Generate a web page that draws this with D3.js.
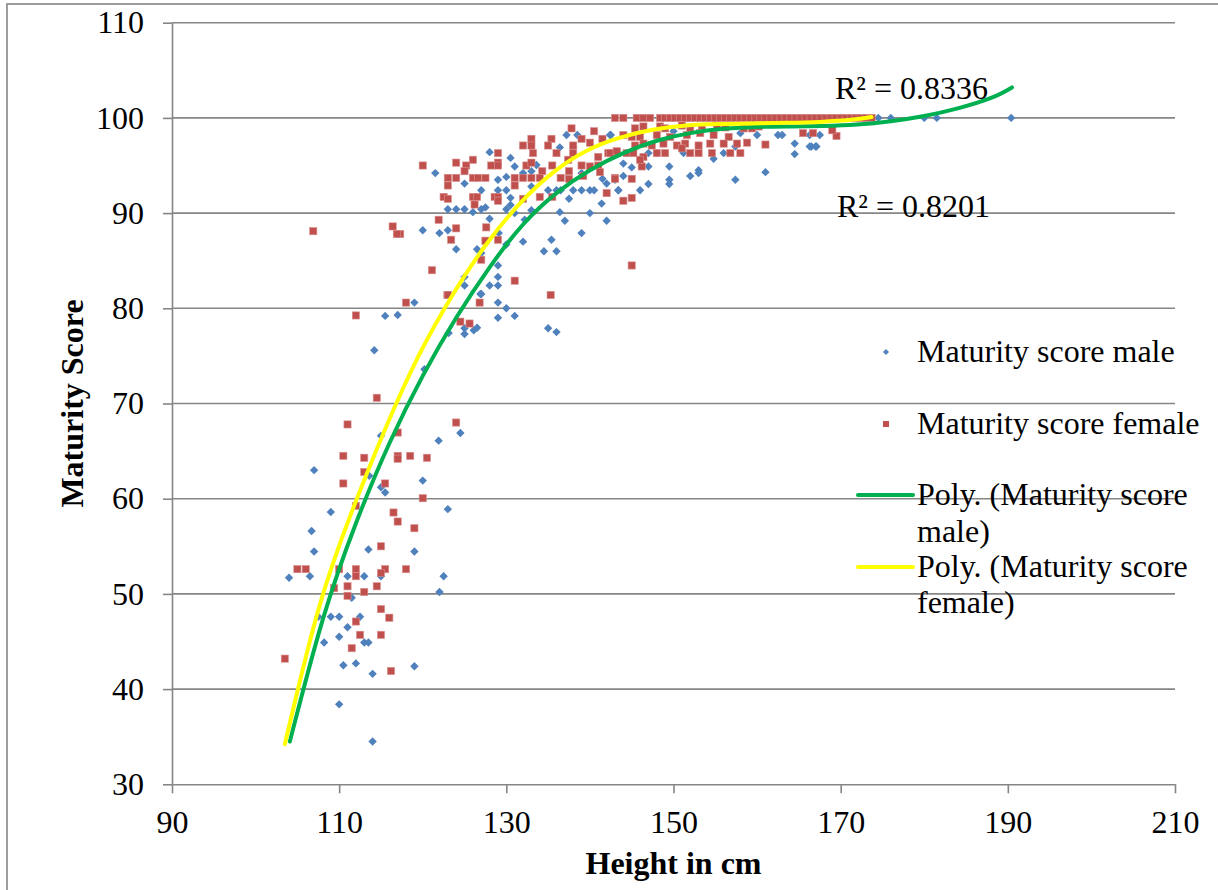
<!DOCTYPE html>
<html>
<head>
<meta charset="utf-8">
<script src="https://cdn.jsdelivr.net/npm/d3@7"></script>
<style>
  html, body { margin: 0; padding: 0; background: #fff; }
  svg { display: block; }
  text { font-family: "Liberation Serif", "Times New Roman", serif; fill: #000; }
</style>
</head>
<body>
<svg id="chart" width="1218" height="890"></svg>
<script>
// Height (cm) vs maturity score, boys and girls
const maleData = [
  [119.0,80.6],[126.9,81.5],[115.5,79.2],[117.0,79.3],[125.0,77.9],[126.1,77.7],[126.5,77.95],[125.0,77.3],[123.1,77.4],
  [114.2,75.6],[120.2,73.6],[124.5,66.9],[115.0,66.6],[121.9,66.1],[107.0,63.0],[113.6,62.4],[115.0,61.2],[115.5,60.65],
  [120.0,61.9],[109.0,58.6],[123.0,58.9],[106.7,56.6],
  [107.0,54.45],[113.5,54.66],[119.0,54.45],[104.0,51.7],[106.5,51.86],[111.0,51.86],[113.0,51.86],[115.0,51.86],
  [122.5,51.86],[111.5,49.6],[122.0,50.2],[107.5,47.6],[109.0,47.6],[110.0,47.6],[112.5,47.6],[111.0,46.5],[110.0,45.5],
  [108.2,44.9],[113.0,44.9],[113.5,44.9],[110.5,42.5],[112.0,42.7],[119.0,42.4],[114.0,41.6],[110.0,38.4],[114.0,34.5],
  [137.2,98.2],[138.5,98.2],[142.5,98.2],[128.0,96.4],[136.4,96.9],[138.0,96.9],[121.5,94.2],[130.5,95.8],[131.0,94.9],
  [133.6,95.05],[132.0,94.2],[133.0,94.4],[125.0,93.1],[129.0,93.5],[130.0,93.8],[139.0,94.2],[141.5,93.6],[142.0,93.1],
  [143.0,93.5],[127.0,92.4],[129.0,92.4],[130.0,92.4],[133.0,92.8],[135.0,92.4],[136.0,92.4],[136.5,92.4],[138.0,92.4],
  [139.0,92.4],[140.0,92.4],[140.5,92.4],[143.4,92.4],[130.5,91.6],[137.5,91.5],[123.0,90.4],[124.0,90.4],[125.0,90.4],
  [126.0,90.1],[127.0,90.4],[127.5,90.6],[130.0,90.4],[130.5,90.85],[133.0,90.3],[141.4,91.0],[131.0,90.0],[136.4,90.1],
  [140.0,90.0],[128.0,89.4],[132.2,89.3],[137.0,89.2],[142.0,89.2],[120.0,88.2],[122.0,87.9],[123.0,88.2],[129.1,87.9],
  [139.0,87.9],[132.0,87.0],[130.0,86.7],[135.4,87.2],[134.5,86.0],[136.0,86.0],[124.0,86.2],[126.5,86.2],[127.0,85.8],
  [129.0,84.5],[125.0,83.3],[129.0,83.3],[128.0,82.4],[129.0,82.4],[125.0,82.4],[127.0,81.5],[129.0,80.6],[130.0,80.0],
  [129.0,79.0],[131.0,79.2],[135.0,77.9],[136.0,77.5],
  [142.4,98.2],[160.0,98.2],[162.5,98.2],[163.0,98.2],[164.5,97.3],[164.5,96.2],[166.5,97.0],[167.1,97.0],[147.0,96.3],
  [148.0,96.3],[151.2,96.3],[154.8,95.7],[156.0,96.3],[157.4,97.0],[144.0,95.2],[145.0,94.8],[147.0,94.9],[149.5,94.9],
  [144.0,93.9],[152.0,93.9],[153.0,94.5],[153.0,94.2],[149.5,93.5],[149.5,93.05],[147.0,93.05],[146.0,92.4],[143.4,92.4],
  [157.4,93.5],[161.0,94.3],[150.0,98.6],[158.0,98.4],
  [166.3,98.2],[167.5,98.2],[166.3,97.0],[167.0,97.0],
  [155.0,100],[157.6,100],[163.3,100],[166.0,100],[170.0,100],[172.0,100],[174.5,100],[176.0,100],[180.0,100],
  [181.5,100],[190.4,100]
];

const femaleData = [
  [118.0,80.6],[122.95,81.4],[126.8,80.6],[112.0,79.25],[124.5,78.6],[125.6,78.4],[114.5,70.6],[111.0,67.8],[124.0,68.0],
  [117.0,66.95],[110.5,64.5],[113.0,64.3],[117.0,64.5],[117.0,64.2],[118.5,64.5],[120.5,64.3],[113.0,62.8],[110.5,61.6],
  [115.5,61.6],[120.0,60.05],[112.0,59.25],[116.5,58.55],[117.0,57.6],[119.0,56.9],
  [115.0,55.0],[105.0,52.6],[106.0,52.6],[110.0,52.6],[112.0,52.6],[112.0,51.86],[115.5,52.6],[115.0,52.2],[118.0,52.6],
  [111.0,50.8],[109.4,50.6],[114.5,50.8],[113.0,50.2],[111.0,49.8],[115.0,48.4],[116.0,47.5],[112.0,47.1],[112.5,45.7],
  [115.0,45.7],[111.5,44.3],[103.5,43.2],[116.2,41.9],
  [143.0,100.0],[137.8,98.9],[140.5,98.6],[133.0,97.8],[135.4,97.8],[139.0,97.8],[141.5,97.8],[132.0,97.1],[133.0,97.1],
  [135.0,97.1],[138.0,97.1],[140.0,97.4],[129.0,96.3],[133.2,96.3],[136.0,96.3],[138.0,96.3],[142.2,96.3],[126.0,95.6],
  [137.4,95.6],[141.0,95.9],[143.2,96.3],[120.0,95.0],[124.0,95.3],[125.2,95.0],[128.2,95.0],[129.0,95.3],[129.0,95.0],
  [132.4,95.0],[133.0,95.3],[135.5,95.0],[139.0,95.0],[140.0,94.9],[141.0,95.0],[125.0,94.4],[134.3,94.4],[137.5,94.4],
  [123.0,93.7],[124.0,93.7],[126.0,93.7],[126.6,93.7],[127.5,93.7],[131.0,93.7],[132.0,93.7],[133.0,93.7],[134.0,93.7],
  [136.5,93.7],[137.5,93.6],[139.2,93.9],[141.2,94.3],[143.0,93.7],[123.0,92.9],[131.0,92.9],[122.5,91.7],[123.0,91.5],
  [126.0,91.7],[126.5,91.7],[128.6,91.7],[129.0,91.7],[129.0,91.3],[132.0,91.5],[134.0,91.7],[135.5,91.7],[142.0,92.1],
  [126.2,90.9],[121.9,89.3],[117.3,87.8],[124.0,88.4],[123.4,87.2],[127.6,88.5],[127.5,87.1],[129.0,87.2],[127.0,85.1],
  [121.1,84.0],[131.0,82.9],[135.3,81.4],[123.0,81.4],
  [106.9,88.1],[116.4,88.6],[116.9,87.8],[145.0,84.5],
  [145.4,98.9],[146.4,99.1],[148.4,99.1],[149.0,98.9],[151.0,99.2],[152.0,98.9],[153.4,99.0],[155.2,99.2],[156.2,99.0],
  [158.4,98.9],[159.4,98.9],[160.2,99.1],
  [144.0,98.2],[145.0,98.0],[146.0,98.0],[148.0,98.2],[149.6,98.0],[151.6,98.2],[153.2,98.4],[154.8,98.2],[156.6,98.0],
  [165.5,98.4],[166.7,98.4],
  [145.4,97.1],[146.4,97.3],[147.4,97.1],[148.8,97.3],[150.4,97.1],[151.4,97.3],[153.0,97.1],[154.4,97.3],[156.0,97.3],
  [157.6,97.3],[158.8,97.4],[161.0,97.2],
  [142.4,96.3],[143.2,96.5],[144.4,96.3],[145.2,96.3],[146.4,95.9],[148.0,96.3],[149.0,96.3],[151.0,96.8],[152.0,96.3],
  [153.0,96.3],[154.6,96.3],[156.8,96.3],[158.0,96.3],
  [143.0,93.6],[145.0,93.6],[146.2,94.9],[146.0,95.6],[144.0,91.3],[145.0,91.6],
  [169.5,98.1],[169.0,98.7],
  [144.0,100],[145.6,100],[146.4,100],[147.2,100],[148.4,100],[149.0,100],[149.6,100],[150.2,100],[150.8,100],
  [151.4,100],[152.0,100],[152.6,100],[153.2,100],[153.8,100],[154.4,100],[155.0,100],[155.6,100],[156.2,100],
  [156.8,100],[157.4,100],[158.0,100],[158.6,100],[159.2,100],[159.8,100],[160.4,100],[161.0,100],[161.6,100],
  [162.2,100],[162.8,100],[163.4,100],[164.0,100],[164.6,100],[165.2,100],[165.8,100],[166.4,100],[167.0,100],
  [167.6,100],[168.2,100],[168.8,100],[169.4,100],[170.0,100],[170.6,100],[171.2,100],[171.8,100],[172.4,100],
  [173.0,100],[173.7,100]
];

// Polynomial trendlines (as plotted)
const maleTrend = [
  [104.1,34.5],[108,47.2],[112,57.4],[116,65.8],[120,72.9],[124,79.0],[128,84.3],[132,88.8],[136,92.1],[140,94.5],
  [144,96.3],[148,97.6],[152,98.4],[156,98.85],[160,99.05],[164,99.1],[168,99.15],[172,99.3],[176,99.65],[180,100.2],
  [184,101.0],[188,102.1],[190.5,103.2]
];
const femaleTrend = [
  [103.5,34.2],[107.5,48.3],[111.5,58.6],[115.5,67.3],[119.5,75.0],[123.5,81.3],[127.5,86.6],[131.5,90.9],[135.5,94.2],
  [139.5,96.5],[143.5,97.9],[147.5,98.75],[151.5,99.2],[155.5,99.35],[159.5,99.42],[163.5,99.48],[167.5,99.58],
  [171.5,99.82],[173.7,100.1]
];

const xTicks = [90, 110, 130, 150, 170, 190, 210];
const yTicks = [30, 40, 50, 60, 70, 80, 90, 100, 110];
const r2Labels = ["R\u00b2 = 0.8336", "R\u00b2 = 0.8201"];
const legendLabels = [
  ["Maturity score male"],
  ["Maturity score female"],
  ["Poly. (Maturity score", "male)"],
  ["Poly. (Maturity score", "female)"]
];

const BLUE = "#4F81BD", RED = "#C0504D", GREEN = "#00B050", YELLOW = "#FFFF00", GRID = "#868686";
const FS = 32;

const svg = d3.select("#chart");

// outer frame
svg.append("rect").attr("x", 7).attr("y", 4).attr("width", 1230).attr("height", 900)
  .attr("fill", "none").attr("stroke", "#8c8c8c").attr("stroke-width", 1.7);

const x = d3.scaleLinear().domain([90, 210]).range([172, 1175]);
const y = d3.scaleLinear().domain([30, 110]).range([784.3, 22.7]);

// horizontal gridlines
svg.append("g").selectAll("line").data(yTicks.filter(d => d > 30)).join("line")
  .attr("x1", x(90)).attr("x2", x(210))
  .attr("y1", d => y(d)).attr("y2", d => y(d))
  .attr("stroke", GRID).attr("stroke-width", 1.6);

// axes
const yAxis = svg.append("g").attr("transform", `translate(${x(90)},0)`)
  .call(d3.axisLeft(y).tickValues(yTicks).tickSize(9).tickPadding(19).tickSizeOuter(0));
const xAxis = svg.append("g").attr("transform", `translate(0,${y(30)})`)
  .call(d3.axisBottom(x).tickValues(xTicks).tickSize(9).tickPadding(17).tickSizeOuter(0));
[xAxis, yAxis].forEach(a => {
  a.select(".domain").attr("stroke", GRID).attr("stroke-width", 1.6);
  a.selectAll(".tick line").attr("stroke", GRID).attr("stroke-width", 1.6);
  a.selectAll(".tick text").attr("font-family", "Liberation Serif, Times New Roman, serif")
    .attr("font-size", FS).attr("fill", "#000");
});

// axis titles
svg.append("text").attr("x", (x(90) + x(210)) / 2).attr("y", 874)
  .attr("text-anchor", "middle").attr("font-size", FS).attr("font-weight", "bold").text("Height in cm");
svg.append("text").attr("transform", `translate(83,${(y(30) + y(110)) / 2}) rotate(-90)`)
  .attr("text-anchor", "middle").attr("font-size", FS).attr("font-weight", "bold").text("Maturity Score");

const diamond = s => `M0,${-s}L${s},0L0,${s}L${-s},0Z`;

// male points
svg.append("g").selectAll("path").data(maleData).join("path")
  .attr("d", diamond(4.2))
  .attr("transform", d => `translate(${x(d[0])},${y(d[1])})`)
  .attr("fill", BLUE);

// female points
svg.append("g").selectAll("rect").data(femaleData).join("rect")
  .attr("x", d => x(d[0]) - 3.6).attr("y", d => y(d[1]) - 3.6)
  .attr("width", 7.2).attr("height", 7.2)
  .attr("fill", RED).attr("stroke", "#d9908e").attr("stroke-width", 0.6);

// trendlines
const line = d3.line().x(d => x(d[0])).y(d => y(d[1])).curve(d3.curveNatural);
svg.append("path").datum(maleTrend).attr("d", line)
  .attr("fill", "none").attr("stroke", GREEN).attr("stroke-width", 4).attr("stroke-linecap", "round");
svg.append("path").datum(femaleTrend).attr("d", line)
  .attr("fill", "none").attr("stroke", YELLOW).attr("stroke-width", 4).attr("stroke-linecap", "round");

// R² labels
svg.append("text").attr("x", 835).attr("y", 99).attr("font-size", FS).text(r2Labels[0]);
svg.append("text").attr("x", 837).attr("y", 217).attr("font-size", FS).text(r2Labels[1]);

// legend
const lg = svg.append("g");
lg.append("path").attr("d", diamond(3)).attr("transform", "translate(886,352)").attr("fill", BLUE);
lg.append("rect").attr("x", 883).attr("y", 421).attr("width", 6).attr("height", 6).attr("fill", RED);
lg.append("line").attr("x1", 858).attr("x2", 913).attr("y1", 495).attr("y2", 495)
  .attr("stroke", GREEN).attr("stroke-width", 4).attr("stroke-linecap", "round");
lg.append("line").attr("x1", 858).attr("x2", 913).attr("y1", 567).attr("y2", 567)
  .attr("stroke", YELLOW).attr("stroke-width", 4).attr("stroke-linecap", "round");
const legendBaselines = [[362], [434], [505, 542], [577, 613]];
legendLabels.forEach((lines, i) => {
  lines.forEach((t, j) => {
    lg.append("text").attr("x", 917).attr("y", legendBaselines[i][j]).attr("font-size", FS).text(t);
  });
});
</script>
</body>
</html>
